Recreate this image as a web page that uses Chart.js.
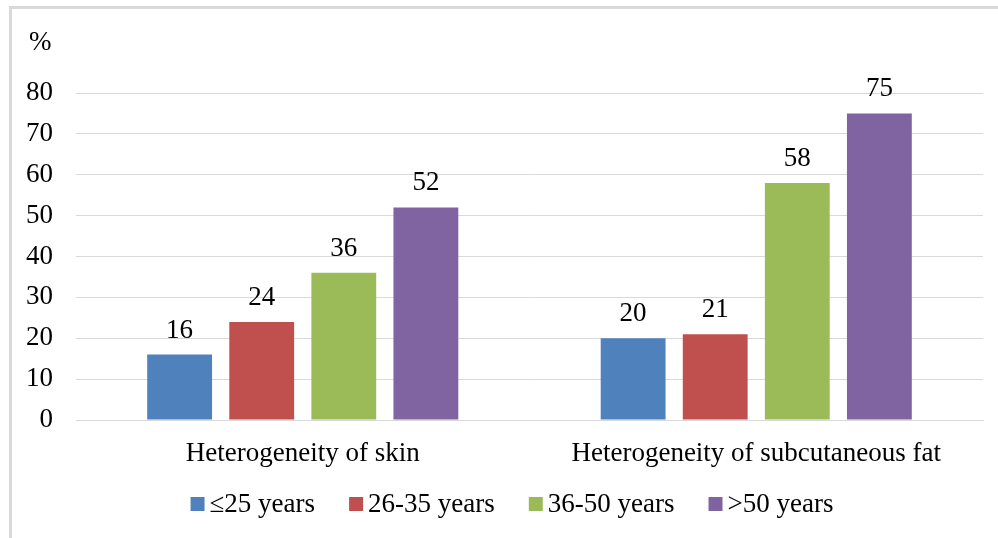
<!DOCTYPE html>
<html>
<head>
<meta charset="utf-8">
<script src="https://cdn.jsdelivr.net/npm/chart.js@4"></script>
<style>
  body { margin: 0; background: #fff; }
  #frame { position: absolute; left: 9px; top: 6px; width: 1000px; height: 540px;
           border-left: 3px solid #d9d9d9; border-top: 3px solid #d9d9d9; }
  #wrap { position: absolute; left: 0; top: 0; width: 998px; height: 538px; }
</style>
</head>
<body>
<div id="frame"></div>
<div id="wrap"><canvas id="myChart"></canvas></div>
<script>
const categories = ['Heterogeneity of skin', 'Heterogeneity of subcutaneous fat'];
const groups = ['≤25 years', '26-35 years', '36-50 years', '>50 years'];
const young = [16, 20];
const adults = [24, 21];
const middle = [36, 58];
const older = [52, 75];
const colors = ['#4F81BD', '#C0504D', '#9BBB59', '#8064A2'];

const serif = "'Liberation Serif', 'Times New Roman', serif";
const fontSize = 27;

// values above the bars, "%" unit label and a compact legend
const extras = {
  id: 'extras',
  afterDatasetsDraw(chart) {
    const ctx = chart.ctx;
    ctx.save();
    ctx.font = fontSize + 'px ' + serif;
    ctx.fillStyle = '#000';
    ctx.textAlign = 'center';
    ctx.textBaseline = 'alphabetic';
    chart.data.datasets.forEach((ds, i) => {
      chart.getDatasetMeta(i).data.forEach((bar, j) => {
        ctx.fillText(ds.data[j], bar.x, bar.y - 17);
      });
    });

    // unit
    ctx.textAlign = 'left';
    ctx.textBaseline = 'middle';
    ctx.fillText('%', 29, 43);

    // legend
    const box = 14, gap = 5, spacing = 34;
    const widths = groups.map((g) => ctx.measureText(g).width);
    const total = widths.reduce((a, w) => a + box + gap + w, 0) + spacing * (groups.length - 1);
    let x = 512 - total / 2;
    const y = 504;
    groups.forEach((g, i) => {
      ctx.fillStyle = colors[i];
      ctx.fillRect(x, y - box / 2, box, box);
      ctx.fillStyle = '#000';
      ctx.fillText(g, x + box + gap, y + 1);
      x += box + gap + widths[i] + spacing;
    });
    ctx.restore();
  }
};

const ctx = document.getElementById('myChart');
new Chart(ctx, {
  type: 'bar',
  data: {
    labels: categories,
    datasets: [young, adults, middle, older].map((d, i) => ({
      label: groups[i],
      data: d,
      backgroundColor: colors[i],
      categoryPercentage: 0.724,
      barPercentage: 0.79,
    })),
  },
  options: {
    responsive: true,
    maintainAspectRatio: false,
    animation: false,
    layout: { padding: { left: 0, right: 15, top: 93, bottom: 0 } },
    scales: {
      x: {
        grid: { display: false, drawTicks: false },
        border: { color: '#d9d9d9' },
        ticks: { color: '#000', font: { family: serif, size: fontSize }, padding: 18 },
        afterFit(scale) { scale.height = 118; },
      },
      y: {
        min: 0,
        max: 80,
        ticks: { stepSize: 10, color: '#000', font: { family: serif, size: fontSize }, padding: 23 },
        grid: { color: '#d9d9d9', drawTicks: false },
        border: { display: false },
        afterFit(scale) { scale.width = 76; },
      },
    },
    plugins: {
      legend: { display: false },
      tooltip: { enabled: false },
    },
  },
  plugins: [extras],
});
</script>
</body>
</html>
